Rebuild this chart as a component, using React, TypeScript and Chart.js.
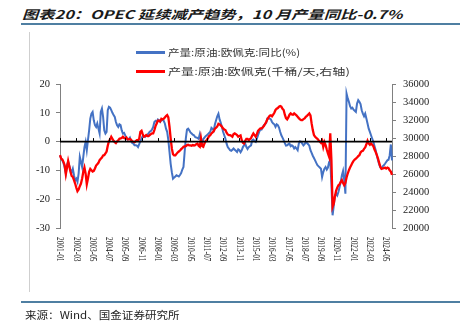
import React, { useEffect, useLayoutEffect, useRef, useState } from 'react';
import { Chart, registerables } from 'chart.js';

Chart.register(...registerables);

// ---------- categories ----------
const START_YEAR = 2001;
const MONTH_COUNT = 286; // 2001-01 .. 2024-10
const months: string[] = [];
for (let i = 0; i < MONTH_COUNT; i++) {
  const y = START_YEAR + Math.floor(i / 12);
  const m = (i % 12) + 1;
  months.push(`${y}-${String(m).padStart(2, '0')}`);
}
const TICK_EVERY = 14;

// ---------- series: OPEC crude output YoY (%) ----------
const yoyPct: number[] = [
  -4.8, -5.9, -6.5, -7.5, -9.0, -11.0, -8.0, -7.0, -8.5, -10.0,
  -10.6, -9.4, -11.7, -13.5, -12.9, -14.0, -11.0, -5.3, -7.0, -8.8,
  -5.3, -1.9, -0.1, -3.0, 0.5, 3.9, 8.0, 9.7, 10.3, 7.4,
  5.7, 5.1, 6.3, 4.5, 2.8, 10.3, 11.5, 8.6, 3.9, 2.8,
  3.4, 10.9, 12.1, 11.8, 10.9, 10.0, 9.2, 8.6, 6.8, 5.7,
  5.1, 6.0, 5.7, 3.9, 2.8, 3.0, 2.2, 1.0, 0.7, 0.9,
  1.4, 0.2, -0.5, -0.7, -1.3, -1.3, -1.4, -1.9, -0.9, 0.2,
  1.0, 2.0, 1.9, 1.6, 2.1, 2.4, 2.8, 3.4, 3.7, 4.2,
  5.1, 6.8, 7.2, 6.8, 7.7, 7.4, 6.8, 7.4, 7.7, 7.2,
  6.3, 4.5, 3.4, 0.5, -3.6, -7.7, -10.6, -12.9, -12.5, -12.1,
  -11.7, -11.9, -12.1, -11.6, -10.9, -9.7, -8.8, -3.6, 1.0, 4.2,
  4.5, 3.9, 3.2, 2.8, 2.4, 2.2, 1.6, 1.4, 1.3, 1.0,
  2.6, 0.7, -0.7, 0.9, 1.4, 1.9, 2.2, 2.6, 3.0, 3.4,
  4.8, 4.4, 3.9, 6.0, 7.4, 8.8, 9.7, 7.7, 6.5, 5.1,
  3.4, 2.2, 1.0, -0.7, -1.9, -2.4, -3.0, -3.2, -2.8, -2.4,
  -2.8, -3.2, -3.6, -2.7, -3.0, -3.7, -3.0, -1.9, -1.3, -0.7,
  -1.9, -2.6, -1.9, -1.6, -1.3, 0.5, 0.7, 0.2, -0.1, 1.0,
  2.2, 3.4, 4.3, 4.2, 4.9, 5.7, 6.0, 6.5, 8.0, 8.0,
  8.0, 7.7, 6.8, 6.3, 6.0, 5.1, 6.0, 5.7, 4.9, 3.4,
  2.2, 1.4, 0.5, -0.5, -1.4, -1.3, -0.9, -0.7, -1.6, -1.3,
  -1.6, -2.4, -1.9, -2.4, -3.0, -0.7, 0.1, -0.1, -0.7, -1.3,
  -0.9, -0.1, -0.5, -0.9, -1.4, -3.0, -3.9, -4.9, -5.7, -6.5,
  -7.4, -8.2, -8.6, -9.0, -9.4, -12.3, -10.6, -9.4, -8.8, -9.7,
  -9.0, -7.1, -6.5, -15.0, -25.6, -22.2, -19.0, -18.1, -18.7, -17.5,
  -15.8, -14.0, -11.7, -10.2, -13.5, -18.1, 16.7, 15.0, 13.8, 12.3,
  11.5, 11.8, 11.1, 10.7, 10.3, 13.2, 14.4, 13.8, 13.0, 10.9,
  9.7, 8.8, 9.7, 8.0, 6.3, 4.5, 3.4, 2.2, 1.0, -0.1,
  -1.6, -3.0, -4.8, -6.5, -7.9, -9.0, -9.4, -8.6, -8.2, -7.7,
  -7.1, -6.5, -6.3, -4.8, -1.0, -6.5,
];

// ---------- series: OPEC crude output (kb/d, right axis) ----------
const outputKbd: number[] = [
  28090, 27720, 27610, 27350, 26980, 25980, 26720, 27460, 26870, 26240,
  25790, 25680, 25310, 24940, 24490, 24090, 24270, 24640, 24940, 25500,
  26240, 26720, 26050, 24860, 25500, 26240, 26570, 26420, 26270, 26350,
  26610, 26940, 27090, 27240, 27540, 27690, 27830, 28060, 28090, 28280,
  28500, 29130, 29650, 29840, 30140, 29910, 29690, 29540, 29430, 29620,
  29760, 29910, 29950, 29990, 30140, 29990, 29950, 30060, 29840, 29840,
  29910, 29800, 29650, 29580, 29540, 29650, 29760, 29760, 29910, 30690,
  30800, 30430, 30140, 30210, 30320, 30210, 30210, 30320, 30430, 30510,
  30510, 30880, 31320, 31620, 31920, 31920, 31840, 32140, 32070, 32140,
  32290, 32440, 32550, 32290, 31250, 29950, 28840, 28210, 28060, 28060,
  28240, 28390, 28500, 28610, 28760, 28870, 29020, 29060, 29100, 29210,
  29240, 29170, 29170, 29130, 29210, 29170, 29210, 29320, 29390, 29130,
  29020, 29950, 29100, 29020, 29390, 29650, 29760, 29990, 30210, 30320,
  30510, 30620, 30770, 31030, 31140, 31290, 31580, 31510, 31400, 31250,
  31060, 30950, 30880, 30580, 30400, 30320, 30320, 30250, 30140, 30430,
  30510, 30430, 30320, 30140, 30210, 30280, 29760, 29470, 29390, 29690,
  29910, 29910, 29760, 29880, 29990, 30280, 30510, 30320, 30140, 30430,
  30800, 30950, 31060, 31060, 31170, 31320, 31550, 31770, 32070, 32290,
  32470, 32510, 32400, 32590, 32810, 33110, 33250, 33330, 33480, 33550,
  33480, 33250, 33110, 32590, 32210, 32070, 32290, 32590, 32730, 32620,
  32590, 32730, 32620, 32510, 32360, 32210, 32070, 31990, 31990, 32100,
  32180, 32360, 32470, 32590, 32730, 32510, 31620, 30880, 30320, 30140,
  30020, 29910, 29760, 29620, 29470, 29690, 29020, 29540, 29210, 28720,
  28280, 27910, 30510, 27540, 22350, 22710, 23530, 24120, 24490, 24750,
  24860, 25120, 25310, 25010, 24750, 25010, 25610, 26050, 26420, 26720,
  26980, 27240, 27460, 27610, 27720, 27830, 27980, 28090, 28390, 28540,
  28580, 28800, 28950, 29280, 29690, 29390, 29240, 29390, 29240, 29100,
  28720, 28430, 28090, 27720, 27240, 26790, 26570, 26610, 26650, 26720,
  26610, 26720, 26650, 26420, 26270, 25900,
];

// ---------- axis ranges ----------
const LEFT_MIN = -30, LEFT_MAX = 20, LEFT_STEP = 5;
const RIGHT_MIN = 20000, RIGHT_MAX = 36000, RIGHT_STEP = 2000;

// ---------- texts ----------
const TITLE = '图表20：OPEC 延续减产趋势，10 月产量同比-0.7%';
const LEGEND_YOY = '产量:原油:欧佩克:同比(%)';
const LEGEND_OUT = '产量:原油:欧佩克(千桶/天,右轴)';
const SOURCE = '来源：Wind、国金证券研究所';

const BLUE = '#4472C4';
const RED = '#FF0000';
const RULE = '#4f7fa2';
const CJK = '"Noto Sans CJK SC", "Noto Sans", sans-serif';
const SERIF = '"Liberation Serif", "DejaVu Serif", serif';

type FitProps = {
  text: string; left: number; cy: number; width: number; fontSize: number;
  sy?: number; style?: React.CSSProperties;
};

function FitText({ text, left, cy, width, fontSize, sy = 1, style }: FitProps) {
  const ref = useRef<HTMLSpanElement>(null);
  const [sx, setSx] = useState(1);
  useLayoutEffect(() => {
    const el = ref.current;
    if (el && el.offsetWidth > 0) setSx(width / el.offsetWidth);
  }, [text, width, fontSize]);
  const lh = fontSize * 1.4;
  return (
    <span
      ref={ref}
      style={{
        position: 'absolute', left, top: cy - lh / 2, lineHeight: `${lh}px`,
        fontSize, whiteSpace: 'nowrap', fontFamily: CJK,
        transformOrigin: 'left center', transform: `scale(${sx}, ${sy})`,
        ...style,
      }}
    >
      {text}
    </span>
  );
}

const axisDecor = {
  id: 'axisDecor',
  afterDatasetsDraw(chart: any) {
    const { ctx, chartArea, scales } = chart;
    const xs = scales.x;
    const ys = scales.y;
    const y0 = ys.getPixelForValue(0);
    ctx.save();
    ctx.strokeStyle = '#000';
    ctx.lineWidth = 1.6;
    ctx.beginPath();
    ctx.moveTo(chartArea.left, y0);
    ctx.lineTo(chartArea.right, y0);
    ctx.stroke();
    ctx.lineWidth = 1;
    for (let i = 0; i < months.length; i += TICK_EVERY) {
      const px = Math.round(xs.getPixelForValue(i)) + 0.5;
      ctx.beginPath();
      ctx.moveTo(px, y0);
      ctx.lineTo(px, y0 - 3.5);
      ctx.stroke();
    }
    // rotated category labels (reading top to bottom)
    ctx.fillStyle = '#222';
    ctx.font = `10.5px ${SERIF}`;
    ctx.textAlign = 'left';
    ctx.textBaseline = 'middle';
    const lenScale = 24.5 / ctx.measureText(months[0]).width;
    for (let i = 0; i < months.length; i += TICK_EVERY) {
      const px = xs.getPixelForValue(i);
      ctx.save();
      ctx.translate(px, chartArea.bottom + 9);
      ctx.rotate(Math.PI / 2);
      ctx.scale(lenScale, 1);
      ctx.fillText(months[i], 0, 0);
      ctx.restore();
    }
    ctx.restore();
  },
};

export default function App() {
  const canvasRef = useRef<HTMLCanvasElement>(null);

  useEffect(() => {
    if (!canvasRef.current) return;
    const axisGrid = {
      drawOnChartArea: false, drawTicks: true, tickLength: 4,
      color: '#808080', lineWidth: 1,
    };
    const chart = new Chart(canvasRef.current, {
      type: 'line',
      data: {
        labels: months,
        datasets: [
          {
            label: LEGEND_YOY, data: yoyPct, yAxisID: 'y',
            borderColor: BLUE, backgroundColor: BLUE, borderWidth: 2,
            pointRadius: 0, tension: 0, order: 2,
          },
          {
            label: LEGEND_OUT, data: outputKbd, yAxisID: 'y1',
            borderColor: RED, backgroundColor: RED, borderWidth: 2.3,
            pointRadius: 0, tension: 0, order: 1,
          },
        ],
      },
      options: {
        responsive: false,
        devicePixelRatio: 1,
        animation: false,
        layout: { padding: { left: 0, right: 0, top: 84, bottom: 101 } },
        plugins: { legend: { display: false }, tooltip: { enabled: false } },
        scales: {
          x: { type: 'category', display: false },
          y: {
            position: 'left', min: LEFT_MIN, max: LEFT_MAX,
            grid: axisGrid,
            border: { display: true, color: '#808080', width: 1 },
            ticks: {
              stepSize: LEFT_STEP, padding: 6, color: '#222',
              font: { family: SERIF, size: 10.5 },
              callback: (v: any) => String(v),
            },
            afterFit: (s: any) => { s.width = 60; },
          },
          y1: {
            position: 'right', min: RIGHT_MIN, max: RIGHT_MAX,
            grid: axisGrid,
            border: { display: true, color: '#808080', width: 1 },
            ticks: {
              stepSize: RIGHT_STEP, padding: 7, color: '#222',
              font: { family: SERIF, size: 10.5 },
              callback: (v: any) => String(v),
            },
            afterFit: (s: any) => { s.width = 68; },
          },
        },
      },
      plugins: [axisDecor],
    } as any);
    return () => chart.destroy();
  }, []);

  return (
    <div style={{ position: 'absolute', left: 0, top: 0, width: 460, height: 329, background: '#fff', overflow: 'hidden' }}>
      <FitText text={TITLE} left={22} cy={13} width={380} fontSize={15} sy={0.8}
        style={{ fontWeight: 700, fontStyle: 'italic', color: '#1a1a1a' }} />
      <div style={{ position: 'absolute', left: 21, top: 23, width: 439, height: 2, background: RULE }} />
      <div style={{ position: 'absolute', left: 29, top: 32, width: 1, height: 260, background: '#cfcfcf' }} />
      <canvas ref={canvasRef} width={460} height={329}
        style={{ position: 'absolute', left: 0, top: 0, width: 460, height: 329 }} />
      <div style={{ position: 'absolute', left: 136, top: 51, width: 29, height: 2.5, background: BLUE }} />
      <FitText text={LEGEND_YOY} left={168} cy={52} width={132} fontSize={12} sy={0.8} style={{ color: '#333' }} />
      <div style={{ position: 'absolute', left: 136, top: 70, width: 29, height: 2.5, background: RED }} />
      <FitText text={LEGEND_OUT} left={168} cy={71} width={182} fontSize={12} sy={0.8} style={{ color: '#333' }} />
      <div style={{ position: 'absolute', left: 21, top: 301, width: 439, height: 2, background: RULE }} />
      <FitText text={SOURCE} left={25} cy={315} width={155} fontSize={12} sy={0.85} style={{ color: '#222' }} />
    </div>
  );
}
